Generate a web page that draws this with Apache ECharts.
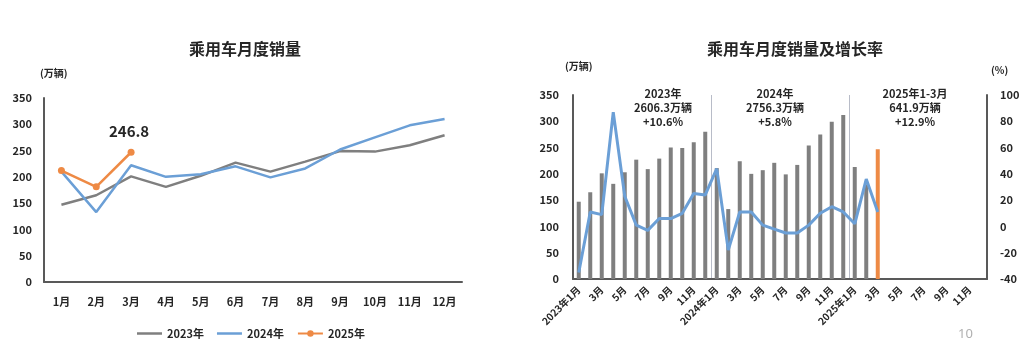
<!DOCTYPE html>
<html><head><meta charset="utf-8">
<script src="https://cdn.jsdelivr.net/npm/echarts@6/dist/echarts.min.js"></script>
<style>html,body{margin:0;padding:0;background:#fff}#c{width:1024px;height:352px}</style>
</head><body><div id="c"></div>
<script>
const months = ['1月','2月','3月','4月','5月','6月','7月','8月','9月','10月','11月','12月'];
const sales2023 = [147, 165, 201, 181, 202, 227, 210, 229, 249, 248, 260, 279];
const sales2024 = [210, 133, 222, 200, 205, 220, 199, 216, 252, 275, 298, 310];
const sales2025 = [212, 181, 246.8];
const leftTicks = [0, 50, 100, 150, 200, 250, 300, 350];

const monthCats = [];
['2023','2024','2025'].forEach(y => months.forEach((m, i) => monthCats.push(i === 0 ? y + '年' + m : m)));
const barSales = [147, 165, 201, 181, 203, 227, 209, 229, 250, 249, 260, 280,
                  211, 133, 224, 200, 207, 221, 199, 217, 254, 275, 299, 312,
                  213, 180, 247];
const growthRate = [-35, 11, 9, 87, 23, 1, -3, 6, 6, 10, 25, 24,
                    44, -18, 11, 11, 1, -2, -5, -5, 1, 10, 15, 11,
                    2, 36, 11];
const rightTicks = [-40, -20, 0, 20, 40, 60, 80, 100];
const annotations = [
  ['2023年', '2606.3万辆', '+10.6%'],
  ['2024年', '2756.3万辆', '+5.8%'],
  ['2025年1-3月', '641.9万辆', '+12.9%']
];

const GRAY = '#7f7f7f', BLUE = '#6b9fd6', ORANGE = '#ee8a45', TXT = '#262626', AX = '#595959';
const pad = (arr, n) => arr.concat(Array(n - arr.length).fill(null));
const LINE_ICON = 'path://M0 0H25V2.5H0Z';

const chart = echarts.init(document.getElementById('c'));
const annX = [663, 775, 915];
chart.setOption({
  animation: false,
  textStyle: { fontFamily: 'Noto Sans CJK SC' },
  title: [
    { text: '乘用车月度销量', left: 240, top: 36, textAlign: 'center',
      textStyle: { fontSize: 16, fontWeight: 'bold', color: TXT } },
    { text: '乘用车月度销量及增长率', left: 790, top: 36, textAlign: 'center',
      textStyle: { fontSize: 16, fontWeight: 'bold', color: TXT } }
  ],
  legend: {
    data: [
      { name: '2023年', icon: LINE_ICON },
      { name: '2024年', icon: LINE_ICON },
      { name: '2025年' }
    ],
    bottom: 8, left: 132, itemWidth: 25, itemHeight: 8, itemGap: 13,
    textStyle: { fontSize: 11, fontWeight: 'bold', color: TXT }
  },
  grid: [
    { left: 44, top: 98, width: 418, height: 184 },
    { left: 573, top: 95, width: 414, height: 184 }
  ],
  xAxis: [
    { type: 'category', gridIndex: 0, data: months,
      axisLine: { lineStyle: { color: AX, width: 2 } }, axisTick: { show: false },
      axisLabel: { fontSize: 11, fontWeight: 'bold', color: TXT, margin: 14 } },
    { type: 'category', gridIndex: 1, data: monthCats,
      axisLine: { lineStyle: { color: AX, width: 2 } }, axisTick: { show: false },
      axisLabel: { fontSize: 10, fontWeight: 'bold', color: TXT, rotate: 45, interval: 1, margin: 9 },
      splitLine: { show: true, interval: (i) => i === 12 || i === 24, lineStyle: { color: '#b8bcc8', width: 1 } } }
  ],
  yAxis: [
    { type: 'value', gridIndex: 0, min: 0, max: 350, interval: 50,
      name: '(万辆)', nameLocation: 'end', nameGap: 20, nameTextStyle: { fontSize: 10, fontWeight: 'bold', color: TXT, align: 'left', padding: [0, 0, 0, -4] },
      axisLine: { show: true, lineStyle: { color: AX, width: 2 } }, splitLine: { show: false },
      axisLabel: { fontSize: 11, fontWeight: 'bold', color: TXT, margin: 12 } },
    { type: 'value', gridIndex: 1, min: 0, max: 350, interval: 50,
      name: '(万辆)', nameLocation: 'end', nameGap: 24, nameTextStyle: { fontSize: 10, fontWeight: 'bold', color: TXT, align: 'left', padding: [0, 0, 0, -8] },
      axisLine: { show: true, lineStyle: { color: AX, width: 2 } }, splitLine: { show: false },
      axisLabel: { fontSize: 11, fontWeight: 'bold', color: TXT, margin: 14 } },
    { type: 'value', gridIndex: 1, position: 'right', min: -40, max: 100, interval: 20,
      name: '(%)', nameLocation: 'end', nameGap: 20, nameTextStyle: { fontSize: 10, fontWeight: 'bold', color: TXT, align: 'left', padding: [0, 0, 0, 4] },
      axisLine: { show: true, lineStyle: { color: AX, width: 2 } }, splitLine: { show: false },
      axisLabel: { fontSize: 11, fontWeight: 'bold', color: TXT, margin: 13 } }
  ],
  series: [
    { name: '2023年', type: 'line', xAxisIndex: 0, yAxisIndex: 0, data: sales2023,
      symbol: 'none', lineStyle: { color: GRAY, width: 2.5 }, itemStyle: { color: GRAY } },
    { name: '2024年', type: 'line', xAxisIndex: 0, yAxisIndex: 0, data: sales2024,
      symbol: 'none', lineStyle: { color: BLUE, width: 2.5 }, itemStyle: { color: BLUE } },
    { name: '2025年', type: 'line', xAxisIndex: 0, yAxisIndex: 0, data: sales2025,
      symbol: 'circle', symbolSize: 7, lineStyle: { color: ORANGE, width: 2.5 }, itemStyle: { color: ORANGE },
      label: { show: true, formatter: (p) => p.dataIndex === 2 ? String(p.value) : '',
        position: 'top', distance: 10, offset: [-2, 0], fontSize: 15, fontWeight: 'bold', color: TXT } },
    { name: '销量', type: 'bar', xAxisIndex: 1, yAxisIndex: 1, data: pad(barSales, 36), barWidth: 4,
      itemStyle: { color: (p) => p.dataIndex === 26 ? ORANGE : GRAY } },
    { name: '增长率', type: 'line', xAxisIndex: 1, yAxisIndex: 2, data: pad(growthRate, 36),
      symbol: 'none', lineStyle: { color: BLUE, width: 3 }, itemStyle: { color: BLUE }, z: 5 }
  ],
  graphic: annotations.map((a, i) => ({
    type: 'text', x: annX[i], y: 87,
    style: { text: a.join('\n'), align: 'center', fill: TXT, font: 'bold 11px "Noto Sans CJK SC"', lineHeight: 14 }
  })).concat([{ type: 'text', x: 958, y: 328, style: { text: '10', fill: '#b0b0b0', font: '13px "Noto Sans"' } }])
});
</script></body></html>
